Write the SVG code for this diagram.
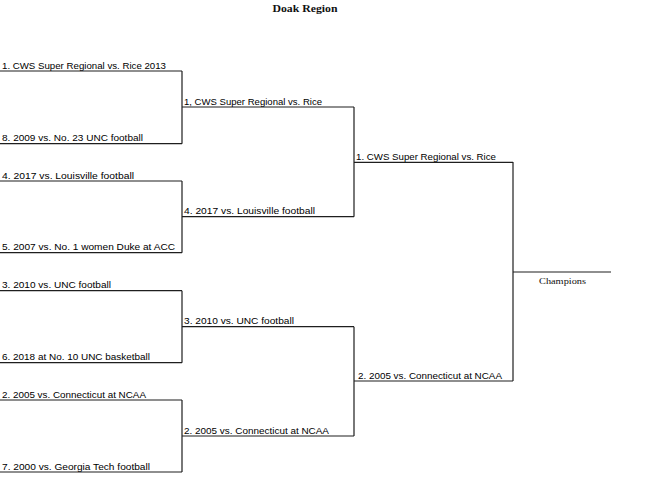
<svg xmlns="http://www.w3.org/2000/svg" width="660" height="502" viewBox="0 0 660 502">
<style>
.ln{stroke:#1e1e1e;stroke-width:1.2;fill:none}
.lb{font-family:"Liberation Sans",Arial,sans-serif;font-size:9px;fill:#000}
.sf{font-family:"Liberation Serif","Times New Roman",serif;fill:#111}
</style>
<rect width="660" height="502" fill="#fff"/>
<text class="sf" x="305" y="12" font-size="11" font-weight="bold" text-anchor="middle" textLength="65" lengthAdjust="spacingAndGlyphs">Doak Region</text>
<g id="connectors">
<path class="ln" d="M182,71V143.7M182,181V252.7M182,290.7V362.7M182,400V472"/>
<path class="ln" d="M354,107V216.7M354,326.7V436"/>
<path class="ln" d="M513,162V381"/>
</g>
<g id="r1-1"><path class="ln" d="M0,71H182"/><text class="lb" x="2" y="68.5" textLength="164" lengthAdjust="spacingAndGlyphs">1. CWS Super Regional vs. Rice 2013</text></g>
<g id="r1-8"><path class="ln" d="M0,143.7H182"/><text class="lb" x="2" y="141.2" textLength="141" lengthAdjust="spacingAndGlyphs">8. 2009 vs. No. 23 UNC football</text></g>
<g id="r1-4"><path class="ln" d="M0,181H182"/><text class="lb" x="2" y="178.5" textLength="132" lengthAdjust="spacingAndGlyphs">4. 2017 vs. Louisville football</text></g>
<g id="r1-5"><path class="ln" d="M0,252.7H182"/><text class="lb" x="2" y="250.2" textLength="173" lengthAdjust="spacingAndGlyphs">5. 2007 vs. No. 1 women Duke at ACC</text></g>
<g id="r1-3"><path class="ln" d="M0,290.7H182"/><text class="lb" x="2" y="288.2" textLength="109" lengthAdjust="spacingAndGlyphs">3. 2010 vs. UNC football</text></g>
<g id="r1-6"><path class="ln" d="M0,362.7H182"/><text class="lb" x="2" y="360.2" textLength="148" lengthAdjust="spacingAndGlyphs">6. 2018 at No. 10 UNC basketball</text></g>
<g id="r1-2"><path class="ln" d="M0,400H182"/><text class="lb" x="2" y="397.5" textLength="144" lengthAdjust="spacingAndGlyphs">2. 2005 vs. Connecticut at NCAA</text></g>
<g id="r1-7"><path class="ln" d="M0,472H182"/><text class="lb" x="2" y="469.5" textLength="148" lengthAdjust="spacingAndGlyphs">7. 2000 vs. Georgia Tech football</text></g>
<g id="r2-1"><path class="ln" d="M182,107H354"/><text class="lb" x="184" y="104.5" textLength="138" lengthAdjust="spacingAndGlyphs">1, CWS Super Regional vs. Rice</text></g>
<g id="r2-4"><path class="ln" d="M182,216.7H354"/><text class="lb" x="184" y="214.2" textLength="131" lengthAdjust="spacingAndGlyphs">4. 2017 vs. Louisville football</text></g>
<g id="r2-3"><path class="ln" d="M182,326.7H354"/><text class="lb" x="184" y="324.2" textLength="110" lengthAdjust="spacingAndGlyphs">3. 2010 vs. UNC football</text></g>
<g id="r2-2"><path class="ln" d="M182,436H354"/><text class="lb" x="184" y="433.5" textLength="145" lengthAdjust="spacingAndGlyphs">2. 2005 vs. Connecticut at NCAA</text></g>
<g id="r3-1"><path class="ln" d="M354,162.3H513"/><text class="lb" x="356" y="159.8" textLength="140" lengthAdjust="spacingAndGlyphs">1. CWS Super Regional vs. Rice</text></g>
<g id="r3-2"><path class="ln" d="M354,381H513"/><text class="lb" x="358" y="378.5" textLength="144" lengthAdjust="spacingAndGlyphs">2. 2005 vs. Connecticut at NCAA</text></g>
<g id="champion"><path class="ln" d="M513,272H611"/><text class="sf" x="539" y="284" font-size="9" textLength="47" lengthAdjust="spacingAndGlyphs">Champions</text></g>
</svg>
